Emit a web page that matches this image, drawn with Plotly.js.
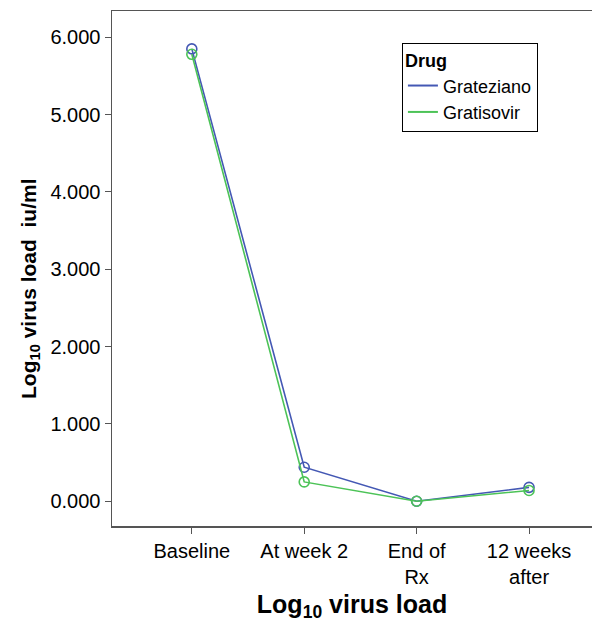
<!DOCTYPE html>
<html><head><meta charset="utf-8">
<script src="https://cdn.plot.ly/plotly-3.0.1.min.js"></script>
<style>body{margin:0;padding:0;background:#fff}</style>
</head><body>
<div id="chart" style="width:592px;height:622px"></div>
<script>
const categories = ["Baseline", "At week 2", "End of<br>Rx", "12 weeks<br>after"];
const seriesNames = ["Grateziano", "Gratisovir"];
const grateziano = [5.85, 0.44, 0.00, 0.18];
const gratisovir = [5.78, 0.25, 0.00, 0.14];
const yTicks = [0, 1, 2, 3, 4, 5, 6];
const colors = ["#4458b4", "#4cc357"];

const font = "Liberation Sans, Arial, sans-serif";
const values = [grateziano, gratisovir];
const traces = [];
values.forEach((v, i) => {
  traces.push({x: categories, y: v, name: seriesNames[i], type: "scatter", mode: "lines+markers",
    showlegend: false, legendgroup: seriesNames[i],
    line: {color: colors[i], width: 1.6},
    marker: {symbol: "circle-open", size: 10, color: colors[i], line: {width: 1.6}}});
});
values.forEach((v, i) => {
  traces.push({x: [categories[0]], y: [null], name: seriesNames[i], type: "scatter", mode: "lines",
    showlegend: true, legendgroup: seriesNames[i],
    line: {color: colors[i], width: 2}});
});
const layout = {
  width: 592, height: 622,
  margin: {l: 112, r: 0, t: 11, b: 96},
  paper_bgcolor: "#fff", plot_bgcolor: "#fff",
  font: {family: font, size: 20, color: "#000"},
  showlegend: true,
  legend: {x: 0.604, y: 0.938, xanchor: "left", yanchor: "top",
    bordercolor: "#000", borderwidth: 1, bgcolor: "#fff",
    title: {text: "<b>Drug</b>", font: {size: 18}},
    font: {size: 18}, tracegroupgap: 0, itemwidth: 30},
  xaxis: {type: "category", range: [-0.71, 3.56],
    showline: true, linecolor: "#555", linewidth: 1.5, mirror: true,
    ticks: "outside", ticklen: 6, tickcolor: "#555",
    showgrid: false, zeroline: false,
    tickfont: {size: 20},
    title: {text: "<b>Log<sub>10</sub> virus load</b>", font: {size: 25}, standoff: 12}},
  yaxis: {range: [-0.32, 6.34],
    showline: true, linecolor: "#555", linewidth: 1.5,
    ticks: "outside", ticklen: 6, tickcolor: "#555",
    tickvals: yTicks, tickformat: ".3f",
    showgrid: false, zeroline: false,
    tickfont: {size: 20}},
  annotations: [{
    text: "<b>Log<sub>10</sub> virus load  iu/ml</b>", font: {size: 21},
    xref: "paper", yref: "paper", x: -0.171, y: 0.462,
    xanchor: "center", yanchor: "middle", textangle: -90, showarrow: false
  }]
};
Plotly.newPlot("chart", traces, layout, {displayModeBar: false, staticPlot: true});
</script>
</body></html>
